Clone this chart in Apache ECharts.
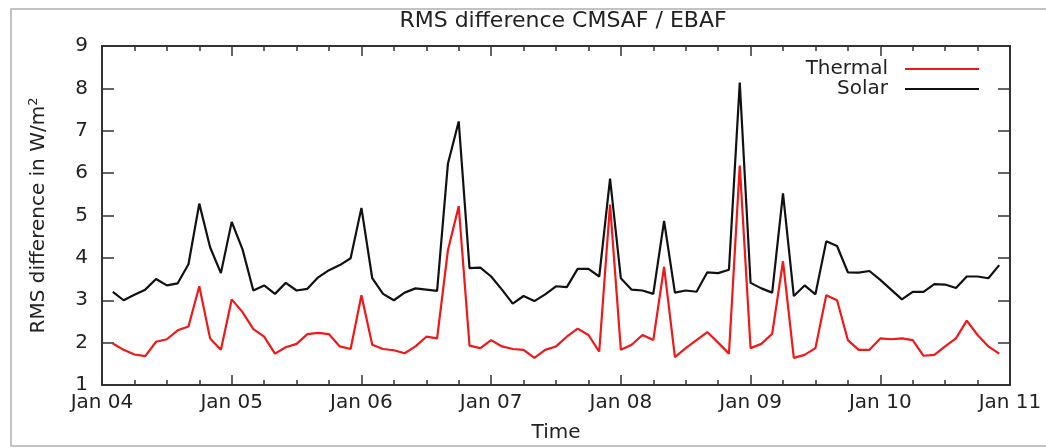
<!DOCTYPE html>
<html>
<head>
<meta charset="utf-8">
<script src="https://cdn.jsdelivr.net/npm/echarts@6/dist/echarts.min.js"></script>
<style>
  html, body { margin: 0; padding: 0; background: #fff; }
  #chart { width: 1046px; height: 448px; }
</style>
</head>
<body>
<div id="chart"></div>
<script>
// Monthly RMS differences, Feb 2004 .. Dec 2010 (month 1 = Feb 04)
var thermal = [
  1.98, 1.83, 1.72, 1.68, 2.02, 2.08, 2.29, 2.38, 3.33, 2.10, 1.83,
  3.02, 2.72, 2.32, 2.14, 1.74, 1.89, 1.97, 2.20, 2.23, 2.20, 1.91, 1.85,
  3.12, 1.95, 1.85, 1.82, 1.75, 1.91, 2.14, 2.10, 4.18, 5.22, 1.93, 1.87,
  2.06, 1.91, 1.85, 1.83, 1.64, 1.83, 1.91, 2.14, 2.33, 2.18, 1.79, 5.26,
  1.83, 1.95, 2.18, 2.06, 3.79, 1.66, 1.87, 2.06, 2.25, 2.00, 1.74, 6.18,
  1.87, 1.97, 2.21, 3.92, 1.64, 1.71, 1.87, 3.12, 3.00, 2.06, 1.83, 1.83,
  2.10, 2.08, 2.10, 2.06, 1.69, 1.71, 1.91, 2.10, 2.52, 2.18, 1.91, 1.74
];
var solar = [
  3.20, 3.00, 3.13, 3.25, 3.50, 3.35, 3.40, 3.85, 5.28, 4.25, 3.64,
  4.85, 4.20, 3.23, 3.35, 3.15, 3.41, 3.23, 3.27, 3.54, 3.71, 3.83, 3.99,
  5.18, 3.52, 3.15, 3.00, 3.18, 3.28, 3.25, 3.22, 6.22, 7.22, 3.76, 3.77,
  3.56, 3.25, 2.92, 3.10, 2.98, 3.14, 3.33, 3.31, 3.74, 3.74, 3.56, 5.87,
  3.52, 3.25, 3.23, 3.15, 4.87, 3.18, 3.23, 3.20, 3.66, 3.64, 3.72, 8.14,
  3.41, 3.28, 3.18, 5.52, 3.10, 3.35, 3.14, 4.39, 4.28, 3.66, 3.65, 3.69,
  3.48, 3.25, 3.02, 3.20, 3.20, 3.38, 3.37, 3.29, 3.56, 3.56, 3.52, 3.83
];
var yearLabels = ["Jan 04", "Jan 05", "Jan 06", "Jan 07", "Jan 08", "Jan 09", "Jan 10", "Jan 11"];

var font = "DejaVu Sans";
var axisColor = "#333";

// months since Jan 2004 for each sample
var monthIndex = thermal.map(function (v, i) { return i + 1; });
var thermalData = monthIndex.map(function (m, i) { return [m, thermal[i]]; });
var solarData = monthIndex.map(function (m, i) { return [m, solar[i]]; });

var chart = echarts.init(document.getElementById("chart"));

var xBase = {
  type: "value",
  min: 0,
  max: 84,
  interval: 12,
  axisLine: { show: true, onZero: false, lineStyle: { color: axisColor, width: 2 } },
  axisTick: { show: true, inside: true, length: 10, lineStyle: { color: axisColor, width: 1.5 } },
  minorTick: { show: true, splitNumber: 4, length: 5, lineStyle: { color: axisColor, width: 1.5 } },
  splitLine: { show: false }
};
var yBase = {
  type: "value",
  min: 1,
  max: 9,
  interval: 1,
  axisLine: { show: true, onZero: false, lineStyle: { color: axisColor, width: 2 } },
  axisTick: { show: true, inside: true, length: 12, lineStyle: { color: axisColor, width: 1.5 } },
  splitLine: { show: false }
};

var option = {
  animation: false,
  title: {
    text: "RMS difference CMSAF / EBAF",
    left: 558,
    top: 5,
    textAlign: "center",
    textStyle: { fontFamily: font, fontSize: 22, fontWeight: "normal", color: "#222" }
  },
  legend: {
    orient: "vertical",
    right: 62,
    top: 54,
    align: "right",
    icon: "rect",
    itemWidth: 74,
    itemHeight: 2,
    itemGap: 0,
    data: ["Thermal", "Solar"],
    textStyle: { fontFamily: font, fontSize: 20, color: "#222", padding: [0, 12, 0, 0] }
  },
  grid: { left: 102, right: 36, top: 46, bottom: 56 },
  graphic: [{
    type: "rect",
    silent: true,
    shape: { x: 11, y: 9, width: 1040, height: 437 },
    style: { fill: "none", stroke: "#b0b0b0", lineWidth: 1.5 }
  }],
  xAxis: [
    Object.assign({}, xBase, {
      position: "bottom",
      name: "Time",
      nameLocation: "middle",
      nameGap: 38,
      nameTextStyle: { fontFamily: font, fontSize: 20, color: "#222" },
      axisLabel: {
        show: true,
        margin: 8,
        fontFamily: font,
        fontSize: 20,
        color: "#222",
        formatter: function (v) { return yearLabels[v / 12]; }
      }
    }),
    Object.assign({}, xBase, { position: "top", axisLabel: { show: false } })
  ],
  yAxis: [
    Object.assign({}, yBase, {
      position: "left",
      name: "RMS difference in W/m{sup|2}",
      nameLocation: "middle",
      nameGap: 52,
      nameRotate: 90,
      nameTextStyle: {
        fontFamily: font, fontSize: 20, color: "#222",
        rich: { sup: { fontFamily: font, fontSize: 13, color: "#222", verticalAlign: "top", padding: [0, 0, 10, 0] } }
      },
      axisLabel: { show: true, margin: 14, fontFamily: font, fontSize: 20, color: "#222" }
    }),
    Object.assign({}, yBase, { position: "right", axisLabel: { show: false } })
  ],
  series: [
    {
      name: "Thermal",
      type: "line",
      data: thermalData,
      symbol: "none",
      color: "#f01818",
      lineStyle: { color: "#f01818", width: 2.2 }
    },
    {
      name: "Solar",
      type: "line",
      data: solarData,
      symbol: "none",
      color: "#111",
      lineStyle: { color: "#111", width: 2.2 }
    }
  ]
};

chart.setOption(option);
</script>
</body>
</html>
